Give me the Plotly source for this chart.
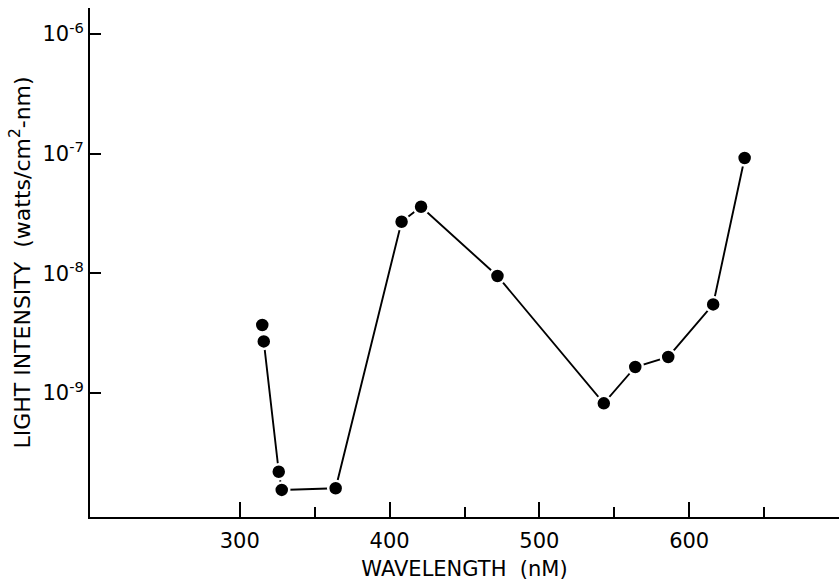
import plotly.graph_objects as go

# Measured spectral light intensity versus wavelength
wavelength_nm = [315, 316, 326, 328, 364, 408, 421, 472, 543, 564, 586, 616, 637]
intensity = [3.7e-9, 2.7e-9, 2.2e-10, 1.55e-10, 1.6e-10, 2.7e-8, 3.6e-8,
             9.5e-9, 8.2e-10, 1.65e-9, 2.0e-9, 5.5e-9, 9.2e-8]

x_major_ticks = [300, 400, 500, 600]
x_minor_ticks = [350, 450, 550, 650]
y_ticks = [1e-9, 1e-8, 1e-7, 1e-6]
y_tick_labels = ["10<sup>-9</sup>", "10<sup>-8</sup>", "10<sup>-7</sup>", "10<sup>-6</sup>"]

FONT = "DejaVu Sans"

fig = go.Figure(
    go.Scatter(
        x=wavelength_nm,
        y=intensity,
        mode="lines+markers",
        line=dict(color="black", width=1.9),
        marker=dict(size=15, color="black", line=dict(color="white", width=2.5)),
        showlegend=False,
    )
)

fig.update_layout(
    width=839,
    height=581,
    margin=dict(l=90, r=0, t=8, b=64),
    paper_bgcolor="white",
    plot_bgcolor="white",
    font=dict(family=FONT, size=20, color="black"),
)

fig.update_xaxes(
    range=[200, 700],
    automargin=False,
    showline=True,
    linecolor="black",
    linewidth=2,
    showgrid=False,
    zeroline=False,
    ticks="inside",
    tickvals=x_major_ticks,
    ticklen=15,
    tickwidth=1.5,
    tickcolor="black",
    minor=dict(tickvals=x_minor_ticks, ticks="inside", ticklen=10,
               tickwidth=1.5, tickcolor="black", showgrid=False),
    ticklabelstandoff=4,
    tickfont=dict(family=FONT, size=21, color="black"),
    title=dict(text="WAVELENGTH  (nM)", standoff=12,
               font=dict(family=FONT, size=21, color="black")),
)

fig.update_yaxes(
    type="log",
    range=[-10.036, -5.783],
    automargin=False,
    showline=True,
    linecolor="black",
    linewidth=2,
    showgrid=False,
    zeroline=False,
    ticks="inside",
    tickvals=y_ticks,
    ticktext=y_tick_labels,
    ticklen=11,
    tickwidth=1.5,
    tickcolor="black",
    tickfont=dict(family=FONT, size=21, color="black"),
    title=dict(text="LIGHT INTENSITY  (watts/cm<sup>2</sup>-nm)", standoff=6,
               font=dict(family=FONT, size=22, color="black")),
)

fig.write_html("out.html")
